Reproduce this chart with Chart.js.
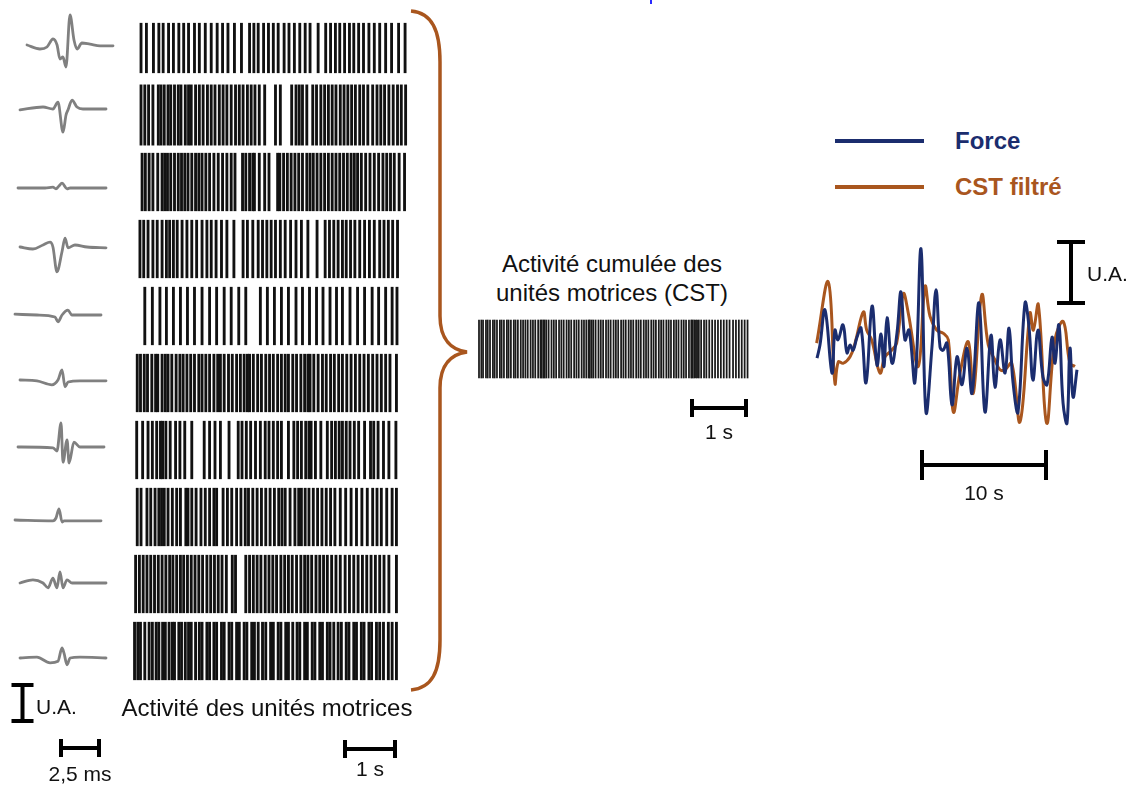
<!DOCTYPE html>
<html>
<head>
<meta charset="utf-8">
<script src="https://cdn.jsdelivr.net/npm/chart.js@4.4.1/dist/chart.umd.min.js"></script>
<style>
  html, body { margin: 0; padding: 0; background: #fff; }
  body { width: 1135px; height: 785px; position: relative; overflow: hidden;
         font-family: 'Liberation Sans', Arial, sans-serif; color: #111; }
  canvas { position: absolute; }
  .lbl { position: absolute; white-space: nowrap; line-height: 1; }
  .c { transform: translate(-50%, -50%); }
  .l { transform: translate(0, -50%); }
</style>
</head>
<body>

<script>
// ---- motor unit action potential templates: [time ms, amplitude U.A.] ----
const muap1 = [[0,0],[0.77,-0.1],[1.19,-0.05],[1.55,0.15],[1.79,0],[1.96,-0.35],[2.14,-0.3],[2.32,-0.55],[2.56,0.75],[2.8,0.12],[2.98,-0.1],[3.27,0.05],[3.75,0.02],[4.35,-0.02],[5.12,-0.02]];
const muap2 = [[0,-0.02],[1.37,0.05],[1.96,0],[2.26,0.17],[2.56,-0.58],[2.74,-0.15],[2.86,-0.02],[3.1,0.22],[3.39,0.05],[3.75,0],[5.12,0]];
const muap3 = [[0,0],[1.61,0],[2.08,0.02],[2.26,-0.02],[2.44,0.05],[2.62,0.12],[2.92,-0.02],[3.1,0],[5.24,0]];
const muap4 = [[0,0],[0.77,-0.05],[1.37,0.05],[1.79,0.12],[1.96,0],[2.2,-0.62],[2.5,-0.12],[2.68,0.22],[2.86,-0.02],[3.27,0.05],[3.99,0],[5.12,-0.02]];
const muap5 = [[0,0.02],[1.31,0],[2.38,-0.05],[2.56,-0.17],[2.8,0],[3.15,0.12],[3.39,0],[3.87,0],[5.12,0]];
const muap6 = [[0,0],[1.01,-0.02],[1.9,-0.12],[2.26,0],[2.5,0.25],[2.68,-0.17],[2.86,-0.05],[3.57,-0.02],[5.12,-0.02]];
const muap7 = [[0,0],[2.08,-0.02],[2.32,-0.1],[2.56,0.6],[2.68,-0.38],[2.92,0.18],[3.04,-0.4],[3.33,0.12],[3.69,0],[5.12,0]];
const muap8 = [[0,0],[2.26,-0.02],[2.44,0.05],[2.62,0.28],[2.8,-0.05],[2.92,-0.02],[5.12,-0.02]];
const muap9 = [[0,0],[0.77,0.08],[1.37,0],[1.67,-0.12],[1.96,0.12],[2.2,-0.12],[2.38,0.28],[2.56,-0.12],[2.8,0.08],[3.1,0],[3.99,0],[5.12,0]];
const muap10 = [[0,0],[1.01,0.02],[1.79,-0.12],[2.26,-0.08],[2.5,0.25],[2.62,0.12],[2.8,-0.17],[2.98,0],[3.57,0.02],[5.12,0]];

// ---- discharge times of each motor unit (s) ----
const mu1Spikes = [0.13,0.23,0.36,0.46,0.54,0.64,0.73,0.83,0.92,1.01,1.12,1.21,1.32,1.43,1.54,1.64,1.74,1.86,1.99,2.14,2.22,2.30,2.40,2.49,2.58,2.67,2.78,2.87,2.97,3.07,3.17,3.26,3.41,3.55,3.64,3.73,3.81,3.90,3.99,4.07,4.16,4.25,4.35,4.45,4.55,4.66,4.77,4.90,5.02];
const mu2Spikes = [0.13,0.20,0.27,0.35,0.45,0.50,0.56,0.63,0.68,0.75,0.82,0.87,0.95,1.01,1.06,1.14,1.21,1.28,1.36,1.43,1.50,1.58,1.65,1.72,1.80,1.88,1.95,2.02,2.10,2.17,2.24,2.32,2.42,2.62,2.71,2.92,3.00,3.06,3.12,3.20,3.31,3.38,3.46,3.53,3.60,3.67,3.74,3.82,3.89,3.96,4.03,4.10,4.18,4.25,4.33,4.42,4.50,4.57,4.64,4.72,4.80,4.88,4.95,5.03];
const mu3Spikes = [0.15,0.21,0.28,0.35,0.44,0.52,0.57,0.62,0.68,0.75,0.82,0.88,0.94,1.00,1.07,1.14,1.20,1.26,1.33,1.40,1.48,1.56,1.64,1.72,1.80,1.87,2.01,2.07,2.14,2.20,2.23,2.32,2.42,2.50,2.66,2.70,2.77,2.84,2.91,2.98,3.05,3.12,3.20,3.26,3.32,3.39,3.46,3.53,3.60,3.67,3.74,3.81,3.88,3.95,4.02,4.08,4.14,4.21,4.29,4.37,4.45,4.53,4.61,4.68,4.75,4.82,4.91,5.01];
const mu4Spikes = [0.11,0.18,0.26,0.35,0.43,0.52,0.60,0.66,0.73,0.80,0.89,0.98,1.07,1.16,1.26,1.35,1.43,1.52,1.62,1.72,1.85,2.02,2.10,2.20,2.30,2.38,2.46,2.54,2.62,2.71,2.80,2.90,3.00,3.10,3.22,3.39,3.54,3.62,3.70,3.78,3.86,3.93,4.01,4.09,4.18,4.27,4.36,4.45,4.55,4.63,4.71,4.79,4.88];
const mu5Spikes = [0.20,0.34,0.48,0.60,0.73,0.86,0.99,1.12,1.26,1.40,1.53,1.67,1.80,1.94,2.07,2.34,2.47,2.60,2.73,2.86,3.00,3.12,3.25,3.38,3.50,3.63,3.75,3.86,4.00,4.14,4.27,4.41,4.53,4.66,4.78,4.87];
const mu6Spikes = [0.06,0.12,0.19,0.25,0.33,0.40,0.44,0.52,0.58,0.63,0.70,0.78,0.85,0.91,0.98,1.05,1.12,1.20,1.26,1.33,1.40,1.48,1.55,1.60,1.67,1.75,1.82,1.90,1.97,2.04,2.10,2.14,2.21,2.29,2.36,2.44,2.51,2.58,2.66,2.73,2.80,2.86,2.94,3.01,3.09,3.16,3.22,3.26,3.33,3.41,3.49,3.56,3.64,3.71,3.79,3.86,3.94,4.02,4.10,4.18,4.26,4.34,4.42,4.50,4.58,4.66,4.74,4.86];
const mu7Spikes = [0.05,0.16,0.26,0.34,0.42,0.49,0.53,0.59,0.67,0.77,0.85,0.94,1.07,1.30,1.40,1.50,1.60,1.76,1.93,2.00,2.08,2.16,2.25,2.34,2.43,2.50,2.58,2.66,2.73,2.86,2.96,3.03,3.10,3.18,3.24,3.28,3.36,3.46,3.58,3.66,3.73,3.80,3.86,3.93,4.00,4.08,4.16,4.27,4.38,4.44,4.52,4.62,4.72,4.85];
const mu8Spikes = [0.06,0.13,0.24,0.31,0.39,0.46,0.51,0.56,0.63,0.71,0.79,0.86,0.96,1.00,1.07,1.15,1.24,1.32,1.40,1.48,1.53,1.65,1.73,1.81,1.90,1.98,2.06,2.12,2.20,2.28,2.36,2.44,2.52,2.60,2.68,2.74,2.80,2.89,2.98,3.05,3.10,3.17,3.24,3.32,3.40,3.48,3.56,3.64,3.72,3.82,3.92,4.02,4.12,4.22,4.32,4.42,4.50,4.58,4.68,4.78,4.86];
const mu9Spikes = [0.03,0.10,0.17,0.24,0.31,0.38,0.45,0.52,0.59,0.66,0.72,0.79,0.86,0.92,0.99,1.06,1.13,1.20,1.27,1.35,1.42,1.49,1.56,1.63,1.71,1.82,1.88,2.07,2.14,2.21,2.28,2.35,2.43,2.50,2.57,2.64,2.72,2.79,2.86,2.93,3.01,3.09,3.16,3.22,3.29,3.37,3.44,3.51,3.58,3.66,3.74,3.82,3.91,3.99,4.07,4.15,4.23,4.31,4.39,4.47,4.55,4.63,4.72,4.86];
const mu10Spikes = [0.01,0.07,0.12,0.20,0.28,0.34,0.41,0.46,0.53,0.58,0.65,0.71,0.75,0.83,0.88,0.95,1.01,1.06,1.14,1.21,1.26,1.35,1.40,1.48,1.53,1.62,1.67,1.76,1.81,1.90,1.95,2.04,2.09,2.18,2.23,2.30,2.38,2.44,2.53,2.58,2.67,2.72,2.81,2.86,2.94,3.02,3.07,3.16,3.21,3.30,3.35,3.44,3.49,3.58,3.63,3.70,3.78,3.84,3.93,3.98,4.07,4.12,4.21,4.26,4.35,4.40,4.49,4.55,4.62,4.71,4.78,4.86];

// ---- cumulative spike train (s) ----
const cstSpikes = [0.00,0.04,0.07,0.12,0.15,0.19,0.24,0.27,0.31,0.36,0.39,0.43,0.48,0.51,0.55,0.60,0.63,0.67,0.72,0.76,0.80,0.84,0.89,0.93,0.97,1.02,1.06,1.08,1.11,1.13,1.16,1.20,1.25,1.29,1.33,1.38,1.42,1.46,1.51,1.55,1.59,1.64,1.68,1.72,1.77,1.81,1.85,1.89,1.91,1.94,1.97,2.01,2.06,2.10,2.14,2.19,2.23,2.27,2.32,2.36,2.40,2.45,2.49,2.53,2.58,2.62,2.66,2.71,2.75,2.79,2.84,2.88,2.92,2.97,3.01,3.05,3.10,3.14,3.18,3.23,3.27,3.31,3.36,3.40,3.44,3.49,3.53,3.57,3.62,3.66,3.68,3.71,3.74,3.76,3.79,3.83,3.88,3.92,3.97,4.02,4.07,4.12,4.17,4.22,4.27,4.32,4.38,4.43,4.48,4.53,4.58,4.63];

// ---- force and filtered CST (time s, U.A.) ----
const forceT = [0.08,0.31,0.70,1.25,1.48,1.72,2.11,2.42,2.66,2.89,3.20,3.52,3.91,4.38,4.77,5.08,5.31,5.55,5.94,6.33,6.64,6.95,7.27,7.73,8.20,8.59,9.06,9.38,9.69,9.92,10.23,10.63,11.02,11.41,11.80,12.19,12.73,13.20,13.67,13.98,14.38,14.77,15.08,15.39,15.78,16.33,16.64,16.95,17.34,17.73,18.05,18.44,18.67,18.98,19.30,19.61,19.84,20.08,20.39];
const forceV = [0.03,0.23,0.77,-0.20,0.46,0.31,0.54,0.11,0.23,0.15,0.35,0.49,-0.35,0.83,-0.08,0.40,-0.10,0.65,-0.05,0.42,1.05,0.31,0.46,-0.34,1.71,-0.80,0.20,1.08,0.20,0.15,0.26,-0.69,0.05,-0.38,0.18,-0.51,0.88,-0.80,0.38,-0.42,0.31,-0.20,0.49,-0.34,-0.80,0.88,0.51,-0.31,0.46,-0.26,-0.38,0.35,-0.05,0.54,-0.66,-0.97,0.18,-0.57,-0.15];
const cstFiltT = [0.05,0.96,1.48,1.74,2.13,2.66,3.05,3.70,3.96,4.35,5.00,5.39,5.91,6.30,6.82,7.21,7.99,8.52,8.91,9.43,9.95,10.34,10.73,11.25,11.90,12.29,12.95,13.46,13.98,14.38,14.77,15.29,15.94,16.72,16.98,17.37,18.02,18.67,19.32,19.84,20.23];
const cstFiltV = [0.26,1.20,-0.36,-0.03,-0.05,0.05,0.26,0.74,0.46,0.31,-0.20,0.05,0.15,0.26,1.02,0.72,-0.10,1.13,0.67,0.46,0.41,0.31,-0.80,-0.20,0.28,-0.51,1.00,0.23,0.00,-0.15,-0.15,-0.05,-0.95,0.72,0.46,0.85,-0.97,0.31,0.59,-0.05,-0.10];

// ---- layout (pixels) ----
const waveLeftPx = [27, 20, 18, 20, 15, 20, 18, 15, 20, 20];
const waveBasePx = [45, 109, 188, 247, 315, 380, 447, 520, 583, 658];
const rowHalf = [0.37, 0.45, 0.43, 0.43, 0.43, 0.43, 0.43, 0.43, 0.43, 0.43];

const NAVY = '#1b2d6e';
const BROWN = '#a9561e';
const GREY = '#808080';

function makeCanvas(left, top, w, h) {
  const c = document.createElement('canvas');
  c.width = w; c.height = h;
  c.style.left = left + 'px'; c.style.top = top + 'px';
  c.style.width = w + 'px'; c.style.height = h + 'px';
  document.body.appendChild(c);
  return c;
}

function label(text, x, y, size, cls, extra) {
  const d = document.createElement('div');
  d.className = 'lbl ' + cls;
  d.textContent = text;
  d.style.left = x + 'px'; d.style.top = y + 'px';
  d.style.fontSize = size + 'px';
  if (extra) Object.assign(d.style, extra);
  document.body.appendChild(d);
}

// scale bars drawn in data units of the chart
function barsPlugin(bars) {
  return {
    id: 'scaleBars',
    afterDatasetsDraw(chart) {
      const ctx = chart.ctx, xs = chart.scales.x, ys = chart.scales.y;
      ctx.save();
      ctx.strokeStyle = '#000';
      ctx.lineWidth = 4;
      ctx.lineCap = 'butt';
      bars.forEach(b => {
        ctx.beginPath();
        if (b.horiz) {
          const x0 = xs.getPixelForValue(b.x0), x1 = xs.getPixelForValue(b.x1), y = ys.getPixelForValue(b.y);
          ctx.moveTo(x0, y); ctx.lineTo(x1, y);
          ctx.moveTo(x0 + 2, y - b.tick); ctx.lineTo(x0 + 2, y + b.tick);
          ctx.moveTo(x1 - 2, y - b.tick); ctx.lineTo(x1 - 2, y + b.tick);
        } else {
          const x = xs.getPixelForValue(b.x), y0 = ys.getPixelForValue(b.y0), y1 = ys.getPixelForValue(b.y1);
          const d = y1 > y0 ? 2 : -2;
          ctx.moveTo(x, y0); ctx.lineTo(x, y1);
          ctx.moveTo(x - b.tick, y0 + d); ctx.lineTo(x + b.tick, y0 + d);
          ctx.moveTo(x - b.tick, y1 - d); ctx.lineTo(x + b.tick, y1 - d);
        }
        ctx.stroke();
      });
      ctx.restore();
    }
  };
}

function baseOptions(xmin, xmax, ymin, ymax, yReverse) {
  return {
    responsive: false,
    animation: false,
    events: [],
    layout: { padding: 0 },
    plugins: { legend: { display: false }, tooltip: { enabled: false } },
    scales: {
      x: { type: 'linear', min: xmin, max: xmax, display: false, offset: false },
      y: { type: 'linear', min: ymin, max: ymax, display: false, reverse: !!yReverse }
    }
  };
}

// ---- waveforms ----
const muaps = [muap1, muap2, muap3, muap4, muap5, muap6, muap7, muap8, muap9, muap10];
const PX_PER_MS = 16.8, PX_PER_UA = 40;
new Chart(makeCanvas(0, 0, 130, 785), {
  type: 'line',
  data: {
    datasets: muaps.map((w, i) => ({
      data: w.map(p => ({ x: waveLeftPx[i] / PX_PER_MS + p[0], y: -waveBasePx[i] / PX_PER_UA + p[1] })),
      borderColor: GREY, borderWidth: 2.8, pointRadius: 0,
      cubicInterpolationMode: 'monotone', borderJoinStyle: 'round', borderCapStyle: 'round'
    }))
  },
  options: baseOptions(0, 130 / PX_PER_MS, -785 / PX_PER_UA, 0),
  plugins: [barsPlugin([
    { horiz: false, x: 22.5 / PX_PER_MS, y0: -683 / PX_PER_UA, y1: -723 / PX_PER_UA, tick: 11 },
    { horiz: true, x0: 59 / PX_PER_MS, x1: 59 / PX_PER_MS + 2.5, y: -748 / PX_PER_UA, tick: 9 }
  ])]
});

// ---- raster of motor units ----
const rasterRows = [mu1Spikes, mu2Spikes, mu3Spikes, mu4Spikes, mu5Spikes, mu6Spikes, mu7Spikes, mu8Spikes, mu9Spikes, mu10Spikes];
const R_X0 = 134, R_PXS = 54, R_Y0 = 48, R_ROW = 67;
new Chart(makeCanvas(130, 0, 285, 785), {
  type: 'bar',
  data: {
    datasets: rasterRows.map((row, i) => ({
      data: row.map(t => ({ x: t, y: [i - rowHalf[i], i + rowHalf[i]] })),
      backgroundColor: '#111', borderWidth: 0, barThickness: 2.2, grouped: false
    }))
  },
  options: baseOptions((130 - R_X0) / R_PXS, (415 - R_X0) / R_PXS, -R_Y0 / R_ROW, (785 - R_Y0) / R_ROW, true),
  plugins: [barsPlugin([
    { horiz: true, x0: (343 - R_X0) / R_PXS, x1: (343 - R_X0) / R_PXS + 1, y: (749 - R_Y0) / R_ROW, tick: 9 }
  ])]
});

// ---- cumulative spike train ----
const C_X0 = 479, C_PXS = 58, C_YB = 378, C_H = 58;
new Chart(makeCanvas(470, 310, 290, 130), {
  type: 'bar',
  data: {
    datasets: [{
      data: cstSpikes.map(t => ({ x: t, y: [0, 1] })),
      backgroundColor: '#1a1a1a', borderWidth: 0, barThickness: 1.1, grouped: false
    }]
  },
  options: baseOptions((470 - C_X0) / C_PXS, (760 - C_X0) / C_PXS, -(440 - C_YB) / C_H, (C_YB - 310) / C_H),
  plugins: [barsPlugin([
    { horiz: true, x0: (690 - C_X0) / C_PXS, x1: (690 - C_X0) / C_PXS + 1, y: -(408 - C_YB) / C_H, tick: 9 }
  ])]
});

// ---- force vs filtered CST ----
const F_X0 = 816, F_PXS = 12.8, F_Y0 = 360, F_PXU = 65;
new Chart(makeCanvas(800, 225, 335, 275), {
  type: 'line',
  data: {
    datasets: [
      { data: forceT.map((t, i) => ({ x: t, y: forceV[i] })), borderColor: NAVY, borderWidth: 3,
        pointRadius: 0, tension: 0.4 },
      { data: cstFiltT.map((t, i) => ({ x: t, y: cstFiltV[i] })), borderColor: BROWN, borderWidth: 3,
        pointRadius: 0, tension: 0.4 }
    ]
  },
  options: baseOptions((800 - F_X0) / F_PXS, (1135 - F_X0) / F_PXS, (F_Y0 - 500) / F_PXU, (F_Y0 - 225) / F_PXU),
  plugins: [barsPlugin([
    { horiz: false, x: (1071 - F_X0) / F_PXS, y0: (F_Y0 - 240) / F_PXU, y1: (F_Y0 - 240) / F_PXU - 1, tick: 14 },
    { horiz: true, x0: (920 - F_X0) / F_PXS, x1: (920 - F_X0) / F_PXS + 10, y: (F_Y0 - 465) / F_PXU, tick: 15 }
  ])]
});

// ---- texts ----
label('U.A.', 36, 706, 21, 'l');
label('2,5 ms', 80, 773, 21, 'c');
label('Activité des unités motrices', 267, 708, 24, 'c');
label('1 s', 370, 768, 21, 'c');
label('Activité cumulée des', 612, 264, 24, 'c');
label('unités motrices (CST)', 612, 293, 24, 'c');
label('1 s', 719, 431, 21, 'c');
label('U.A.', 1087, 273, 21, 'l');
label('10 s', 984, 492, 21, 'c');
label('Force', 955, 141, 24, 'l', { fontWeight: 'bold', color: NAVY });
label('CST filtré', 955, 187, 24, 'l', { fontWeight: 'bold', color: BROWN });
</script>

<!-- legend keys, brace and stray mark -->
<svg width="1135" height="785" style="position:absolute;left:0;top:0;pointer-events:none">
  <line x1="835" y1="141" x2="924" y2="141" stroke="#1b2d6e" stroke-width="4"/>
  <line x1="835" y1="187" x2="924" y2="187" stroke="#a9561e" stroke-width="4"/>
  <path d="M 411 11 C 432 13, 440 30, 440 62 L 440 316 C 440 340, 452 350, 467 352 C 452 354, 440 364, 440 388 L 440 640 C 440 672, 432 688, 411 690"
        fill="none" stroke="#a9561e" stroke-width="3.5"/>
  <rect x="650" y="0" width="2" height="4" fill="#2a2aff"/>
</svg>
</body>
</html>
